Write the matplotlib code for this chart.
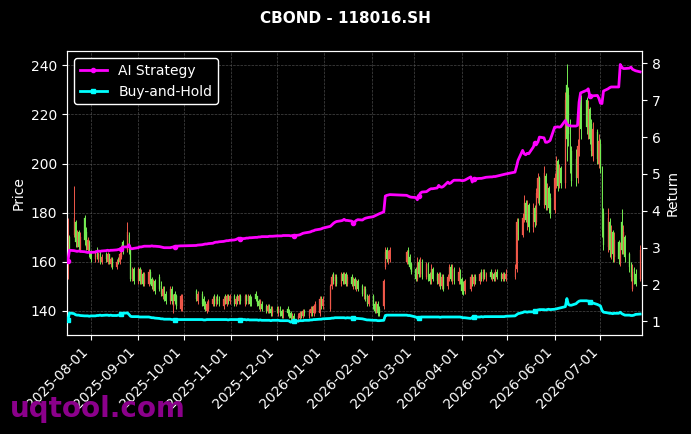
import matplotlib
matplotlib.use("Agg")
import matplotlib.pyplot as plt
import matplotlib.dates as mdates
import numpy as np
import pandas as pd

title = "CBOND - 118016.SH"
watermark = "uqtool.com"

holidays = ["2025-10-01", "2025-10-02", "2025-10-03", "2025-10-06", "2025-10-07", "2025-10-08",
            "2026-01-01", "2026-01-02",
            "2026-02-16", "2026-02-17", "2026-02-18", "2026-02-19", "2026-02-20", "2026-02-23",
            "2026-04-06", "2026-05-01", "2026-05-04", "2026-05-05", "2026-06-19"]
start_date, end_date = "2025-07-17", "2026-07-27"

opens = [
155,170,
171,176,167,172,165,
178,172,165,168,164,
161,165,161,164,160,
163,160,163,159,161,
158,161,160,162,168,
165,171,166,153,157,
152,157,152,155,151,
151,156,153,149,152,
154,150,146,149,147,
144,149,142,147,146,
141,142,
148,144,
147,145,143,140,141,
143,146,143,146,145,
142,146,143,146,144,
146,143,146,144,146,
143,146,144,146,145,
147,146,144,141,143,
142,140,142,141,139,
141,139,141,140,138,
141,140,139,136,138,
136,137,139,138,140,
138,139,141,139,140,
139,145,142,
141,150,155,151,154,
151,155,152,155,151,
154,150,153,149,152,
150,146,149,146,143,
146,143,140,143,141,
142,158,165,160,161,
160,165,162,159,
157,153,160,155,160,
154,159,155,152,157,
155,151,155,150,154,
150,153,158,152,157,
152,156,
153,151,148,
149,154,151,154,
152,156,153,156,153,
156,153,155,153,156,
155,153,155,153,
154,157,177,
171,177,184,176,183,
174,182,176,186,194,
183,195,183,190,186,
181,192,201,191,198,
192,232,228,215,205,
202,194,205,226,
226,212,222,216,203,
213,200,
208,198,180,
166,176,164,172,162,
168,160,176,165,170,
163,158,149,157,155,
153,
]

highs = [
178,171,
191,177,173,173,172,
179,174,170,169,165,
165,166,164,165,163,
164,164,163,162,162,
161,162,164,167,169,
176,172,167,158,158,
158,158,157,156,156,
157,157,154,153,153,
155,152,150,150,148,
150,150,147,148,147,
147,147,
149,148,
148,146,144,144,145,
146,147,146,147,146,
146,147,147,147,147,
147,146,147,147,147,
147,147,147,147,146,
148,146,145,145,144,
143,143,143,142,142,
142,142,142,141,141,
142,141,140,139,139,
139,140,140,141,141,
141,142,142,143,144,
146,146,146,
151,155,156,155,155,
156,156,156,156,155,
155,154,154,153,153,
151,150,150,147,147,
147,144,144,144,142,
153,166,166,165,166,
165,166,163,160,
158,162,161,162,161,
160,160,156,159,158,
156,156,156,155,155,
155,159,159,159,158,
158,157,
154,152,153,
155,155,155,155,
156,157,157,157,156,
157,156,156,157,157,
156,156,156,157,
159,178,178,
180,187,185,185,184,
184,183,190,196,195,
199,196,192,191,188,
196,203,202,200,199,
229,240.5,231,218,207,
206,210,222,228,
227,226,223,218,217,
214,212,
210,199,182,
182,178,175,173,172,
169,168,181.5,175,171,
164,160,159,158,157,
167,
]

lows = [
153,164,
170,166,166,165,164,
167,165,164,162,160,
160,161,160,159,159,
160,159,159,158,157,
157,159,159,161,163,
164,163,152,152,151,
151,151,151,150,150,
150,151,149,148,147,
148,146,145,144,143,
143,143,139,143,141,
140,140,
144,143,
142,141,140,139,140,
142,142,142,143,142,
141,143,142,143,143,
142,142,143,143,143,
142,143,143,142,142,
144,142,141,140,140,
139,139,139,138,138,
139,138,138,137,137,
138,137,136,135.5,135.5,
135.5,136,137,137,138,
137,138,138,138,139,
138,141,141,
140,149,151,150,150,
150,151,151,150,150,
150,149,149,148,148,
146,145,144,142,142,
141,139,139,138,138,
141,157,160,159,160,
159,159,157,155,
152,152,154,154,153,
153,152,151,151,152,
151,150,149,149,148,
149,152,152,151,151,
151,151,
147,146.5,147,
148,150,150,151,
151,152,152,153,152,
153,152,152,152,153,
152,152,152,152,
153,156,169,
170,176,176,173,172,
172,174,175,184,183,
182,181,181,180,178,
180,190,189,190,190,
190,201,207,196,191,
191,192,203,210,
212,210,208,203,201,
200,198,
196,170,165,
164,162,161,160,160,
159,158.5,163,163,160,
156,152,148,151,150,
152,
]

closes = [
176,165,
178,168,172,166,170,
169,166,169,163,161,
164,162,163,160,162,
161,163,160,161,158,
160,160,163,166,165,
172,165,153,157,152,
157,152,155,151,155,
156,152,150,152,148,
149,147,149,145,144,
149,144,146,144,142,
146,145,
145,147,
143,142,141,143,144,
145,143,145,144,143,
145,144,146,144,146,
143,145,144,146,144,
146,144,146,143,143,
145,143,142,144,141,
140,142,140,139,141,
140,141,139,138,140,
139,138,137,138,136,
138,139,138,140,139,
140,141,139,142,143,
145,142,145,
150,154,152,154,151,
155,152,155,151,154,
151,153,150,152,149,
147,149,145,143,146,
142,140,143,139,139,
152,164,161,164,165,
164,160,158,156,
153,160,155,160,154,
159,153,152,157,153,
152,155,150,154,149,
154,158,153,157,152,
156,152,
148,147,152,
154,151,154,152,
155,153,156,154,155,
154,155,153,156,154,
153,155,153,155,
157,176,171,
178,184,177,183,174,
182,176,188,194,185,
196,183,190,182,180,
194,201,191,198,192,
226,210,212,200,193,
194,207,219,214,
215,223,210,205,214,
202,209,
198,173,167,
178,165,172,163,169,
161,166,165,172,162,
158,154,156,152,151,
165,
]

ai_strategy = [
2.65,2.93,
2.92,2.91,2.90,2.91,2.90,
2.89,2.88,2.87,2.88,2.87,
2.88,2.90,2.91,2.90,2.91,
2.92,2.93,2.92,2.93,2.93,
2.94,2.95,2.96,2.97,3.02,
3.02,3.08,2.98,2.97,2.98,
3.00,3.02,3.02,3.03,3.04,
3.04,3.04,3.05,3.04,3.04,
3.03,3.02,3.01,3.00,3.00,
3.00,3.01,3.02,3.03,3.04,
3.05,3.05,
3.06,3.07,
3.08,3.09,3.10,3.10,3.11,
3.12,3.14,3.15,3.15,3.16,
3.17,3.18,3.19,3.19,3.20,
3.21,3.22,3.24,3.26,3.24,
3.25,3.26,3.26,3.27,3.27,
3.28,3.28,3.29,3.29,3.30,
3.30,3.30,3.31,3.31,3.31,
3.32,3.32,3.32,3.32,3.33,
3.33,3.33,3.32,3.33,3.33,
3.34,3.35,3.37,3.39,3.40,
3.42,3.43,3.45,3.46,3.48,
3.50,3.51,3.53,
3.58,3.62,3.66,3.69,3.71,
3.73,3.74,3.77,3.74,3.74,
3.72,3.68,3.70,3.74,3.76,
3.75,3.78,3.80,3.81,3.82,
3.84,3.86,3.88,3.90,3.92,
3.97,4.40,4.42,4.43,4.44,
4.42,4.40,4.38,4.37,
4.36,4.30,4.40,4.48,4.51,
4.52,4.55,4.58,4.60,4.60,
4.62,4.69,4.65,4.64,4.66,
4.78,4.74,4.76,4.80,4.83,
4.83,4.83,
4.82,4.82,4.83,
4.92,4.78,4.86,4.87,
4.88,4.88,4.89,4.90,4.91,
4.92,4.92,4.93,4.93,4.94,
4.97,4.98,4.99,5.00,
5.05,5.20,5.37,
5.64,5.55,5.52,5.56,5.55,
5.73,5.85,5.84,5.86,6.00,
5.98,5.86,5.86,5.88,5.91,
6.27,6.27,6.28,6.27,6.28,
6.45,6.35,6.32,6.31,6.30,
6.30,6.32,6.95,7.20,
7.27,7.31,7.12,7.09,7.12,
7.13,7.05,
6.92,6.91,7.25,
7.31,7.34,7.36,7.36,7.36,
7.36,7.97,7.90,7.86,7.86,
7.87,7.90,7.84,7.82,7.80,
7.77,
]

buy_and_hold = [
1.04,1.23,
1.21,1.18,1.17,1.17,1.16,
1.15,1.15,1.15,1.14,1.15,
1.15,1.16,1.16,1.17,1.16,
1.17,1.17,1.16,1.17,1.16,
1.16,1.17,1.17,1.19,1.22,
1.23,1.19,1.14,1.13,1.13,
1.13,1.12,1.12,1.12,1.12,
1.12,1.11,1.10,1.10,1.09,
1.08,1.07,1.07,1.06,1.06,
1.06,1.05,1.05,1.05,1.05,
1.05,1.05,
1.05,1.05,
1.05,1.04,1.04,1.05,1.05,
1.05,1.05,1.05,1.05,1.05,
1.05,1.05,1.05,1.04,1.05,
1.05,1.05,1.05,1.05,1.05,
1.05,1.04,1.05,1.04,1.04,
1.04,1.04,1.03,1.04,1.03,
1.03,1.03,1.03,1.02,1.03,
1.03,1.03,1.02,1.02,1.02,
1.02,1.01,0.98,1.00,1.00,
1.01,1.02,1.02,1.02,1.03,
1.03,1.04,1.04,1.05,1.05,
1.06,1.06,1.07,
1.08,1.09,1.09,1.10,1.10,
1.10,1.10,1.10,1.09,1.10,
1.09,1.09,1.09,1.08,1.08,
1.07,1.06,1.05,1.04,1.04,
1.03,1.03,1.03,1.02,1.02,
1.03,1.16,1.17,1.17,1.17,
1.17,1.16,1.16,1.15,
1.12,1.09,1.10,1.11,1.12,
1.12,1.12,1.12,1.12,1.12,
1.12,1.12,1.11,1.12,1.12,
1.12,1.12,1.12,1.12,1.12,
1.12,1.12,
1.11,1.10,1.10,
1.08,1.11,1.12,1.12,
1.12,1.13,1.12,1.13,1.13,
1.13,1.13,1.13,1.13,1.13,
1.13,1.13,1.13,1.14,
1.15,1.18,1.21,
1.24,1.26,1.26,1.25,1.26,
1.26,1.27,1.29,1.31,1.32,
1.32,1.31,1.32,1.33,1.32,
1.33,1.34,1.35,1.36,1.37,
1.40,1.62,1.46,1.44,1.44,
1.48,1.52,1.55,1.56,
1.56,1.55,1.54,1.52,1.50,
1.46,1.44,
1.42,1.30,1.25,
1.23,1.22,1.22,1.21,1.22,
1.22,1.25,1.21,1.19,1.17,
1.17,1.16,1.16,1.17,1.19,
1.20,
]

# ---------------------------------------------------------------
dates = [d for d in pd.bdate_range(start_date, end_date) if d.strftime("%Y-%m-%d") not in holidays]
n = min(len(dates), len(opens), len(highs), len(lows), len(closes), len(ai_strategy), len(buy_and_hold))
x = mdates.date2num(pd.DatetimeIndex(dates[:n]).to_pydatetime())
o = np.array(opens[:n], float); h = np.array(highs[:n], float)
l = np.array(lows[:n], float); c = np.array(closes[:n], float)

UP = "#f0584a"
DOWN = "#74ec52"
cols = np.where(c >= o, UP, DOWN)

plt.rcParams["font.family"] = ["DejaVu Sans"]
fig = plt.figure(figsize=(6.91, 4.34), dpi=100, facecolor="black")
ax = fig.add_axes([0.097, 0.228, 0.832, 0.654])
ax.set_facecolor("black")

ax.vlines(x, l, h, colors=cols, linewidth=0.7, zorder=2)
ax.bar(x, np.maximum(np.abs(c - o), 0.3), bottom=np.minimum(o, c), width=0.55,
       color=cols, edgecolor=cols, linewidth=0.2, zorder=3)

ax.set_ylim(130.2, 245.7)
ax.set_xlim(x[0] - 0.6, x[-1] + 1.2)
ax.set_yticks([140, 160, 180, 200, 220, 240])
ax.xaxis.set_major_locator(mdates.MonthLocator())
ax.xaxis.set_major_formatter(mdates.DateFormatter("%Y-%m-%d"))
ax.grid(True, color="#5a5a5a", linestyle="--", linewidth=0.5, alpha=0.8)
ax.set_axisbelow(True)
ax.set_ylabel("Price", color="white", fontsize=10)
ax.tick_params(colors="white", labelsize=10)
for lab in ax.get_xticklabels():
    lab.set_rotation(45)
    lab.set_ha("right")
for sp in ax.spines.values():
    sp.set_color("white")

ax2 = ax.twinx()
ax2.plot(x, ai_strategy[:n], color="#ff00ff", linewidth=2, marker="o", markersize=3,
         markevery=25, label="AI Strategy", zorder=5)
ax2.plot(x, buy_and_hold[:n], color="#00ffff", linewidth=2, marker="s", markersize=3,
         markevery=25, label="Buy-and-Hold", zorder=5)
ax2.set_ylim(0.63, 8.33)
ax2.set_yticks([1, 2, 3, 4, 5, 6, 7, 8])
ax2.set_ylabel("Return", color="white", fontsize=10)
ax2.tick_params(colors="white", labelsize=10)
for sp in ax2.spines.values():
    sp.set_color("white")

leg = ax2.legend(loc="upper left", fontsize=10, facecolor="black", edgecolor="white",
                 framealpha=1.0)
for t in leg.get_texts():
    t.set_color("white")

fig.suptitle(title, color="white", fontsize=11, fontweight="bold", y=0.975)
fig.text(0.014, 0.04, watermark, fontsize=20, fontweight="bold", color="#8b008b",
         va="baseline", ha="left")

fig.savefig("out.png", dpi=100, facecolor="black")
